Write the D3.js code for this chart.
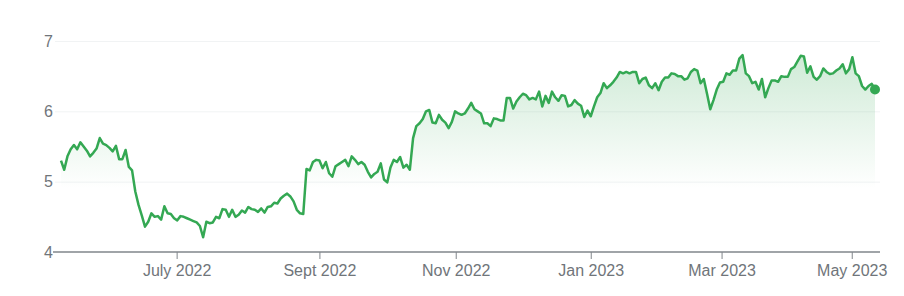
<!DOCTYPE html>
<html>
<head>
<meta charset="utf-8">
<script src="https://cdn.jsdelivr.net/npm/d3@7"></script>
<style>
	html, body { margin: 0; padding: 0; background: #fff; }
	svg { display: block; font-family: Arial, "Liberation Sans", sans-serif; }
</style>
</head>
<body>
<svg id="svg" width="904" height="296"></svg>
<script>
// Closing prices, one per trading day
var prices = [
	5.30, 5.17, 5.36, 5.46, 5.52, 5.46, 5.56, 5.50, 5.44, 5.36,
	5.41, 5.47, 5.62, 5.54, 5.52, 5.48, 5.43, 5.51, 5.32, 5.32,
	5.45, 5.21, 5.16, 4.86, 4.67, 4.52, 4.36, 4.43, 4.55, 4.50,
	4.51, 4.46, 4.65, 4.55, 4.54, 4.48, 4.45, 4.51, 4.50, 4.48,
	4.46, 4.44, 4.42, 4.37, 4.21, 4.43, 4.41, 4.42, 4.50, 4.48,
	4.61, 4.60, 4.50, 4.60, 4.50, 4.53, 4.59, 4.56, 4.64, 4.61,
	4.60, 4.57, 4.62, 4.56, 4.64, 4.65, 4.70, 4.69, 4.76, 4.80,
	4.83, 4.79, 4.72, 4.60, 4.55, 4.54, 5.18, 5.16, 5.28, 5.31,
	5.30, 5.19, 5.28, 5.12, 5.07, 5.22, 5.25, 5.28, 5.31, 5.22,
	5.36, 5.31, 5.25, 5.28, 5.24, 5.14, 5.06, 5.11, 5.14, 5.26,
	5.03, 4.99, 5.20, 5.31, 5.28, 5.35, 5.20, 5.24, 5.17, 5.62,
	5.79, 5.83, 5.89, 6.00, 6.02, 5.84, 5.83, 5.95, 5.88, 5.84,
	5.76, 5.85, 6.00, 5.97, 5.95, 5.97, 6.04, 6.12, 6.03, 6.00,
	5.97, 5.83, 5.83, 5.79, 5.90, 5.89, 5.87, 5.87, 6.19, 6.19,
	6.04, 6.14, 6.20, 6.25, 6.23, 6.17, 6.19, 6.17, 6.28, 6.07,
	6.22, 6.12, 6.28, 6.20, 6.15, 6.23, 6.22, 6.07, 6.09, 6.16,
	6.11, 6.08, 5.92, 6.01, 5.93, 6.07, 6.20, 6.26, 6.40, 6.33,
	6.37, 6.42, 6.48, 6.56, 6.54, 6.56, 6.54, 6.56, 6.56, 6.40,
	6.46, 6.48, 6.37, 6.33, 6.40, 6.30, 6.42, 6.48, 6.48, 6.54,
	6.53, 6.50, 6.50, 6.45, 6.47, 6.56, 6.60, 6.58, 6.40, 6.46,
	6.25, 6.03, 6.16, 6.31, 6.41, 6.42, 6.54, 6.52, 6.58, 6.58,
	6.75, 6.80, 6.54, 6.50, 6.40, 6.42, 6.31, 6.46, 6.20, 6.33,
	6.44, 6.44, 6.42, 6.50, 6.49, 6.49, 6.60, 6.63, 6.71, 6.79,
	6.78, 6.55, 6.64, 6.49, 6.45, 6.50, 6.61, 6.56, 6.53, 6.54,
	6.58, 6.61, 6.67, 6.54, 6.60, 6.77, 6.54, 6.50, 6.36, 6.31,
	6.36, 6.39, 6.31
];

// Month labels and the trading-day index where each one falls
var monthLabels = ["July 2022", "Sept 2022", "Nov 2022", "Jan 2023", "Mar 2023", "May 2023"];
var monthIndex = [35.8, 80, 122.2, 164, 204.5, 244.8];

var yTicks = [4, 5, 6, 7];

var green = "#34a853";

var svg = d3.select("#svg");

var x = d3.scaleLinear()
	.domain([0, prices.length - 1])
	.range([61, 875]);

var y = d3.scaleLinear()
	.domain([4, 7])
	.range([252, 41]);

var defs = svg.append("defs");
var grad = defs.append("linearGradient")
	.attr("id", "fill")
	.attr("gradientUnits", "userSpaceOnUse")
	.attr("x1", 0).attr("x2", 0)
	.attr("y1", y(7)).attr("y2", y(4.9));
grad.append("stop").attr("offset", 0).attr("stop-color", green).attr("stop-opacity", 0.26);
grad.append("stop").attr("offset", 1).attr("stop-color", green).attr("stop-opacity", 0);

// grid lines (skip the bottom one, the axis draws it)
svg.append("g")
	.attr("class", "grid")
	.attr("transform", "translate(55,0)")
	.call(d3.axisLeft(y).tickValues(yTicks.slice(1)).tickSize(-825).tickFormat(""))
	.call(function(g){
		g.select(".domain").remove();
		g.selectAll("line").attr("stroke", "#f1f3f4").attr("stroke-width", 1);
	});

// y labels
svg.append("g")
	.attr("transform", "translate(53,0)")
	.call(d3.axisLeft(y).tickValues(yTicks).tickSize(0).tickPadding(0).tickFormat(d3.format("d")))
	.call(function(g){
		g.select(".domain").remove();
		g.selectAll("text")
			.attr("fill", "#70757a")
			.style("font-size", "16px")
			.style("font-family", "Arial, 'Liberation Sans', sans-serif");
	});

// area + line
svg.append("path")
	.datum(prices)
	.attr("fill", "url(#fill)")
	.attr("d", d3.area()
		.x(function(d, i){ return x(i); })
		.y0(y(4))
		.y1(function(d){ return y(d); }));

svg.append("path")
	.datum(prices)
	.attr("fill", "none")
	.attr("stroke", green)
	.attr("stroke-width", 2.5)
	.attr("stroke-linejoin", "round")
	.attr("d", d3.line()
		.x(function(d, i){ return x(i); })
		.y(function(d){ return y(d); }));

// x axis
var xAxis = svg.append("g")
	.attr("transform", "translate(0," + y(4) + ")")
	.call(d3.axisBottom(x)
		.tickValues(monthIndex)
		.tickSize(7)
		.tickPadding(6)
		.tickFormat(function(d, i){ return monthLabels[i]; }));

xAxis.select(".domain")
	.attr("d", "M53,0H880")
	.attr("stroke", "#80868b")
	.attr("stroke-width", 1.6);
xAxis.selectAll(".tick line").attr("stroke", "#80868b");
xAxis.selectAll(".tick text")
	.attr("fill", "#70757a")
	.style("font-size", "16px")
	.style("font-family", "Arial, 'Liberation Sans', sans-serif");

// last price marker
var last = prices.length - 1;
svg.append("circle")
	.attr("cx", x(last))
	.attr("cy", y(prices[last]))
	.attr("r", 5)
	.attr("fill", green);
</script>
</body>
</html>
